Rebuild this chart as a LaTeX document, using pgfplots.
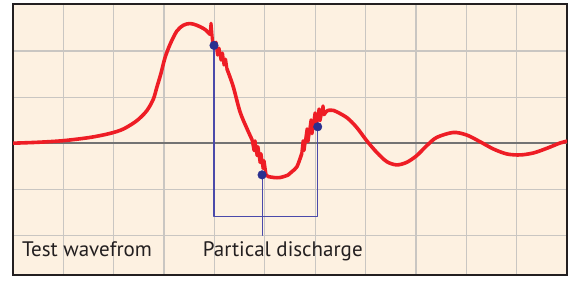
\documentclass[border=0pt]{standalone}
\usepackage{pgfplots}
\pgfplotsset{compat=1.18}
\usepackage{fontspec}
\setmainfont{PT Sans}
\definecolor{cream}{HTML}{FDF1E1}
\definecolor{wred}{HTML}{EE1D25}
\definecolor{navy}{HTML}{2B3190}
\definecolor{bline}{HTML}{4A4AAA}
\definecolor{gridc}{HTML}{C9C6C2}
\definecolor{txt}{HTML}{231F20}
\begin{document}
\begin{tikzpicture}
\begin{axis}[
  scale only axis, width=554pt, height=271pt,
  xmin=0, xmax=11, ymin=-2.86, ymax=3.02,
  xtick={1,...,10}, ytick={-2,-1,1,2},
  xticklabels={}, yticklabels={},
  major tick length=0pt,
  grid=major,
  major grid style={gridc, line width=1.2pt},
  axis line style={txt, line width=2.8pt},
  axis background/.style={fill=cream},
  clip=true,
  every axis plot/.append style={line join=round, line cap=round},
]
\addplot[black!55, line width=2.2pt] coordinates {(0,0) (11,0)};
% blue lines
\addplot[bline, line width=1.1pt] coordinates {(3.991,2.121) (3.991,-1.60) (6.05,-1.60) (6.05,0.356)};
\addplot[bline, line width=1.1pt] coordinates {(4.945,-0.687) (4.945,-2.0)};
% waveform
\addplot[wred, line width=3.6pt, smooth] coordinates {
(0,0.00) (0.5,0.02) (1.0,0.055) (1.529,0.125) (1.926,0.212) (2.190,0.307)
(2.456,0.486) (2.655,0.702) (2.786,0.955) (2.854,1.205) (2.933,1.495)
(3.018,1.853) (3.118,2.143) (3.251,2.430) (3.382,2.559) (3.515,2.596)
(3.648,2.559) (3.813,2.467) (3.912,2.359)};
\addplot[wred, line width=3.2pt] coordinates {
(3.912,2.359) (3.932,2.603) (3.961,2.214) (3.991,2.121) (4.031,2.192)
(4.061,1.911) (4.091,2.063) (4.130,1.803) (4.160,1.955) (4.190,1.695)
(4.220,1.825) (4.249,1.609)};
\addplot[wred, line width=3.6pt, smooth] coordinates {
(4.249,1.609) (4.369,1.242) (4.508,0.680) (4.647,0.313) (4.746,0.076)};
\addplot[wred, line width=3.2pt] coordinates {
(4.746,0.076) (4.786,-0.162) (4.806,0.054) (4.845,-0.270) (4.865,-0.076)
(4.905,-0.421) (4.925,-0.227) (4.965,-0.551) (4.985,-0.378) (5.024,-0.680)
(5.064,-0.724)};
\addplot[wred, line width=3.6pt, smooth] coordinates {
(5.064,-0.724) (5.183,-0.745) (5.302,-0.745) (5.461,-0.691) (5.540,-0.616)
(5.639,-0.508) (5.733,-0.227)};
\addplot[wred, line width=3.2pt] coordinates {
(5.733,-0.227) (5.759,0.054) (5.779,-0.162) (5.839,0.313) (5.858,0.032)
(5.918,0.508) (5.938,0.205) (5.997,0.659) (6.017,0.356) (6.077,0.745)
(6.096,0.486) (6.156,0.810) (6.176,0.616) (6.235,0.702)};
\addplot[wred, line width=3.6pt, smooth] coordinates {
(6.235,0.702) (6.360,0.713) (6.626,0.557) (6.825,0.341) (7.023,0.054)
(7.222,-0.199) (7.421,-0.400) (7.619,-0.471) (7.818,-0.415) (8.016,-0.270)
(8.215,-0.054) (8.413,0.125) (8.743,0.233) (9.009,0.177) (9.273,0.032)
(9.537,-0.125) (9.803,-0.233) (10.068,-0.255) (10.332,-0.212) (10.598,-0.112)
(10.862,0.004) (11.0,0.043)};
% dots
\addplot[only marks, mark=*, mark size=4.3pt, navy] coordinates {(3.991,2.121) (4.945,-0.687) (6.05,0.356)};
\node[anchor=base west, inner sep=0pt, font=\fontsize{21}{24}\selectfont, text=txt] at (axis cs:0.179,-2.466) {Test wavefrom};
\node[anchor=base west, inner sep=0pt, font=\fontsize{21}{24}\selectfont, text=txt] at (axis cs:3.767,-2.466) {Partical discharge};
\end{axis}
\path (current axis.south west) ++(-13pt,-5pt);
\path (current axis.north east) ++(9pt,4pt);
\end{tikzpicture}
\end{document}
